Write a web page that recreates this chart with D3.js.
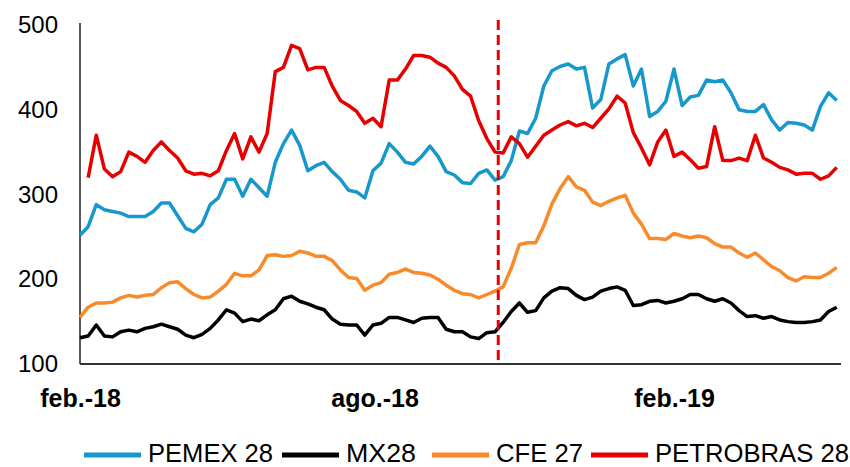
<!DOCTYPE html>
<html>
<head>
	<meta charset="utf-8">
	<title>Spreads bonos</title>
	<style>
		body {
			margin: 0;
			background: white;
		}

		svg {
			display: block;
			font-family: 'Liberation Sans', Arial, sans-serif;
		}
	</style>
</head>
<body>
	<svg width='850' height='467'></svg>
</body>
<script src='https://d3js.org/d3.v7.min.js'></script>
<script>

	// one observation every 5 days starting 1 feb 2018
	let startDate = new Date(2018, 1, 1)
	let stepDays = 5

	let pemex = [
		252,262,288,282,280,278,274,274,274,280,290,290,275,260,256,265,288,296,318,318,298,318,308,298,
		338,360,376,358,328,334,338,327,318,305,303,296,328,337,360,350,338,336,345,357,345,327,323,
		314,313,325,329,317,321,340,375,372,390,428,446,451,454,448,450,402,412,454,460,465,428,448,392,
		398,410,448,405,415,417,435,433,435,420,400,398,398,406,388,376,385,384,382,376,404,420,411
	]

	let mx = [
		131,133,146,133,132,138,140,138,142,144,147,144,141,134,131,135,142,152,164,160,150,153,151,158,
		164,177,180,174,171,167,164,153,147,146,146,134,146,148,155,155,152,149,154,155,155,141,138,
		138,132,130,137,138,149,162,172,161,163,178,186,190,189,181,176,179,186,189,191,187,169,170,174,
		175,172,174,177,182,182,177,174,177,172,163,156,157,154,156,152,150,149,149,150,152,162,167
	]

	let cfe = [
		155,167,172,172,173,178,181,179,181,182,190,196,197,189,182,178,179,186,194,207,204,204,211,228,
		229,227,228,233,231,227,227,222,211,202,201,187,193,196,206,208,212,208,207,205,200,193,187,
		183,182,178,182,186,191,213,241,243,243,263,289,307,321,309,305,291,287,292,296,299,278,265,248,
		248,247,254,251,249,251,249,242,238,238,231,226,231,223,215,210,202,198,203,202,202,207,214
	]

	let petrobras = [
		null,320,370,330,321,327,350,345,338,352,362,352,343,328,324,325,322,328,352,372,342,368,350,372,
		445,450,476,472,447,450,450,428,411,405,398,384,390,380,435,435,448,464,464,462,455,450,440,
		424,416,387,366,350,349,368,360,344,357,370,376,382,386,381,384,379,390,401,416,408,373,355,335,
		362,376,345,350,341,331,333,380,340,340,343,340,370,343,338,332,329,324,325,325,318,322,332
	]

	let seriesNames = ['PEMEX 28', 'MX28', 'CFE 27', 'PETROBRAS 28']
	let seriesColors = ['#1798cc', '#000000', '#f98a2a', '#e60000']

	let yTicks = [100, 200, 300, 400, 500]
	let xTickDates = [new Date(2018, 1, 1), new Date(2018, 7, 1), new Date(2019, 1, 1)]
	let xTickLabels = ['feb.-18', 'ago.-18', 'feb.-19']

	let eventDate = new Date(2018, 9, 16)

	let dates = pemex.map((v, i) => d3.timeDay.offset(startDate, i * stepDays))

	let allSeries = [pemex, mx, cfe, petrobras]

	let svg = d3.select('svg')

	let x = d3.scaleTime()
		.domain([new Date(2018, 1, 1), new Date(2019, 4, 14)])
		.range([80, 840])

	let y = d3.scaleLinear()
		.domain([100, 500])
		.range([364, 25])

	// y axis, no tick marks
	let yAxis = svg.append('g')
		.attr('transform', 'translate(80,0)')
		.call(d3.axisLeft(y).tickValues(yTicks).tickSize(0).tickSizeOuter(0).tickPadding(22))

	yAxis.select('.domain')
		.attr('d', `M0,${y(500) - 2}V${y(100)}`)
		.style('stroke', '#222')
		.style('stroke-width', 1.5)

	yAxis.selectAll('text')
		.style('font-size', '24px')
		.style('font-family', "'Liberation Sans', Arial, sans-serif")
		.style('fill', '#000')

	// x axis
	let xAxis = svg.append('g')
		.attr('transform', 'translate(0,364)')
		.call(d3.axisBottom(x).tickValues(xTickDates).tickFormat((d, i) => xTickLabels[i]).tickSize(0).tickSizeOuter(0))

	xAxis.select('.domain')
		.attr('d', 'M80,0H841')
		.style('stroke', '#333')
		.style('stroke-width', 2)

	xAxis.selectAll('text')
		.attr('y', 43)
		.attr('dy', null)
		.style('font-size', '25px')
		.style('font-weight', 'bold')
		.style('font-family', "'Liberation Sans', Arial, sans-serif")
		.style('fill', '#000')

	// the lines
	let line = d3.line()
		.defined(d => d[1] != null)
		.x(d => x(d[0]))
		.y(d => y(d[1]))

	svg.append('g')
		.selectAll('path')
		.data(allSeries)
		.join('path')
		.attr('d', s => line(s.map((v, i) => [dates[i], v])))
		.style('fill', 'none')
		.style('stroke', (s, i) => seriesColors[i])
		.style('stroke-width', 3.5)
		.style('stroke-linejoin', 'round')

	// vertical dashed marker
	svg.append('line')
		.attr('x1', x(eventDate))
		.attr('x2', x(eventDate))
		.attr('y1', 20)
		.attr('y2', y(100))
		.style('stroke', '#e60000')
		.style('stroke-width', 3)
		.style('stroke-dasharray', '10,5')

	// legend
	let legendX = [84, 282, 432, 591]
	let legendTextW = [125, 70, 87, 194]

	let legend = svg.append('g')
		.selectAll('g')
		.data(seriesNames)
		.join('g')
		.attr('transform', (d, i) => `translate(${legendX[i]},0)`)

	legend.append('line')
		.attr('x1', 0)
		.attr('x2', 57)
		.attr('y1', 455)
		.attr('y2', 455)
		.style('stroke', (d, i) => seriesColors[i])
		.style('stroke-width', 5)

	legend.append('text')
		.attr('x', 64)
		.attr('y', 462)
		.attr('textLength', (d, i) => legendTextW[i])
		.attr('lengthAdjust', 'spacingAndGlyphs')
		.style('font-size', '25px')
		.style('fill', '#000')
		.text(d => d)

</script>
</html>
